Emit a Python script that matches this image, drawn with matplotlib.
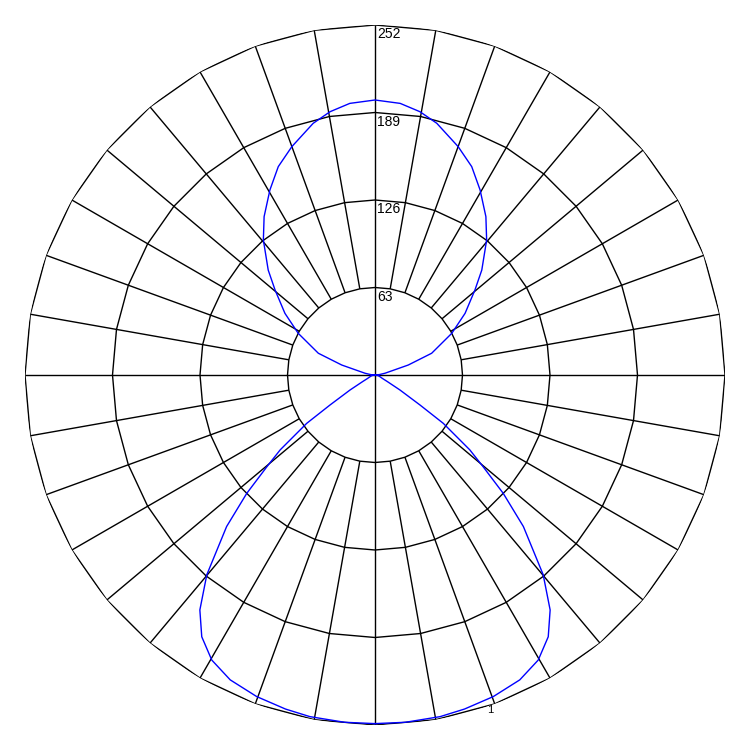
import numpy as np
import matplotlib
matplotlib.use("Agg")
import matplotlib.pyplot as plt

plt.rcParams['font.family'] = ['Liberation Sans', 'DejaVu Sans']

# Photometric data: gamma angle (deg, 0 = straight down) and intensity
gamma = [0, 5, 10.8, 15, 20.2, 25.4, 29.8, 33.5, 36.7, 40.1, 44.4, 47.3, 49.7, 51.7,
         54.7, 56.3, 59, 62, 65, 70, 75, 80, 85, 90,
         95, 100, 106.7, 111, 118.5, 124.4, 130.4, 134.5, 140.4, 145, 150.4, 155.1,
         160, 166.2, 170.3, 174.7, 180]
intensity = [251, 251, 250.4, 249, 246.7, 243, 236.5, 226, 211, 188, 152.7, 125.6, 102, 87,
             60.3, 39, 21, 10, 6, 4, 3, 2, 1, 0,
             3, 7.3, 25, 43.7, 62.9, 78.6, 94.5, 107.8, 126.1, 139.2, 153.2, 165.4,
             175, 186.6, 192.3, 196.4, 198]

ring_values = [63, 126, 189, 252]
ring_labels = ["63", "126", "189", "252"]
spoke_step = 10
curve_label = "1"

fig = plt.figure(figsize=(7.5, 7.5), dpi=100)
ax = fig.add_axes([25/750, 25/750, 700/750, 700/750], projection='polar')
ax.set_theta_zero_location('S')
ax.set_theta_direction(1)
ax.set_ylim(0, ring_values[-1])
ax.grid(False)
ax.set_xticks([])
ax.set_yticks([])
ax.spines['polar'].set_visible(False)
ax.patch.set_visible(False)

grid_kw = dict(color='black', lw=1.0, solid_capstyle='butt', zorder=1)
ring_angles = np.deg2rad(np.arange(0, 361, spoke_step))
for rv in ring_values:
    ax.plot(ring_angles, np.full(ring_angles.shape, rv), **grid_kw)
for a in range(0, 360, spoke_step):
    r0 = 0 if a % 90 == 0 else ring_values[0]
    th = np.deg2rad(a)
    ax.plot([th, th], [r0, ring_values[-1]], **grid_kw)

g = np.deg2rad(np.array(gamma, dtype=float))
I = np.array(intensity, dtype=float)
th_full = np.concatenate([g, 2*np.pi - g[::-1]])
r_full = np.concatenate([I, I[::-1]])
ax.plot(th_full, r_full, color='#0000ff', lw=1.0, zorder=3)

for rv, lab in zip(ring_values, ring_labels):
    ax.annotate(lab, xy=(np.pi, rv), xytext=(1.5, -1.5), textcoords='offset points',
                ha='left', va='top', fontsize=10, color='black', zorder=4)

ax.annotate(curve_label, xy=(np.deg2rad(20), ring_values[-1]), xytext=(-1, -0.5),
            textcoords='offset points', ha='right', va='top', fontsize=8, color='black')

fig.savefig('out.png', dpi=100, facecolor='white')
